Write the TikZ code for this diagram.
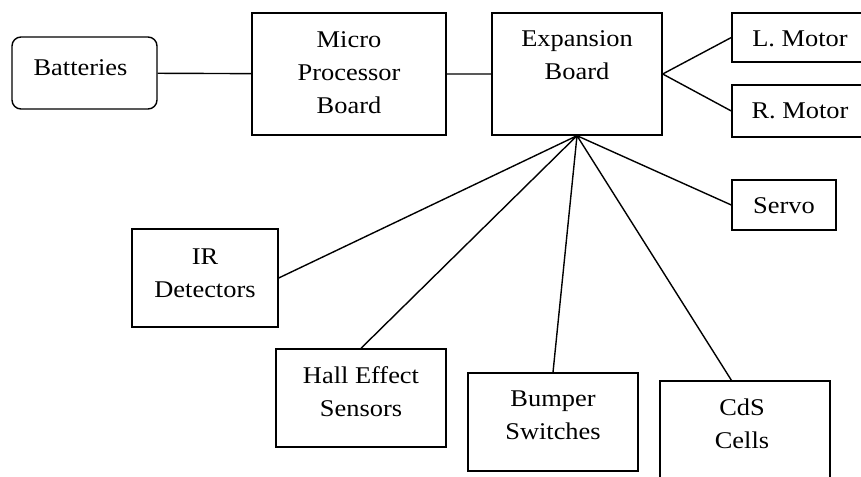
\documentclass[tikz,border=0pt]{standalone}
\usepackage{fontspec}
\setmainfont{Liberation Serif}[FakeStretch=1.1]

\begin{document}
\begin{tikzpicture}[x=1pt, y=-1pt,
	line width=1.4pt,
	block/.style={draw, rectangle, inner sep=0pt},
	txt/.style={align=center, anchor=north, inner sep=0pt,
		font=\fontsize{24}{33}\selectfont}]

\useasboundingbox (0,0) rectangle (861,476);

% Boards
\node[block, rounded corners=9pt,
	minimum width=145pt, minimum height=72pt,
	label={[txt, xshift=-4pt, yshift=-23pt]north:Batteries}] (bat) at (84.5,73) {};

\node[block,
	minimum width=194pt, minimum height=122pt,
	label={[txt, yshift=-19pt]north:{Micro\\Processor\\Board}}] (micro) at (349,74) {};

\node[block,
	minimum width=170pt, minimum height=122pt,
	label={[txt, yshift=-18pt]north:{Expansion\\Board}}] (exp) at (577,74) {};

% Outputs
\node[block,
	minimum width=136pt, minimum height=49pt,
	label={[txt, yshift=-18pt]north:L. Motor}] (lmot) at (800,37.5) {};

\node[block,
	minimum width=136pt, minimum height=52pt,
	label={[txt, yshift=-18pt]north:R. Motor}] (rmot) at (800,111) {};

\node[block,
	minimum width=104pt, minimum height=50pt,
	label={[txt, yshift=-18pt]north:Servo}] (servo) at (784,205) {};

% Sensors
\node[block,
	minimum width=146pt, minimum height=98pt,
	label={[txt, yshift=-20pt]north:{IR\\Detectors}}] (ir) at (205,278) {};

\node[block,
	minimum width=170pt, minimum height=98pt,
	label={[txt, yshift=-18pt]north:{Hall Effect\\Sensors}}] (hall) at (361,398) {};

\node[block,
	minimum width=170pt, minimum height=98pt,
	label={[txt, yshift=-18pt]north:{Bumper\\Switches}}] (bump) at (553,422) {};

\node[block,
	minimum width=170pt, minimum height=100pt,
	label={[txt, xshift=-3pt, yshift=-18pt]north:{CdS\\Cells}}] (cds) at (745,431) {};

% connections
\draw (bat) -- (micro)
	(micro) -- (exp);

\draw (exp.east) -- (lmot.west)
	(exp.east) -- (rmot.west);

\draw (exp.south) -- (ir.east)
	(exp.south) -- (hall.north)
	(exp.south) -- (bump.north)
	(exp.south) -- (cds.105)
	(exp.south) -- (servo.west);

\end{tikzpicture}
\end{document}
